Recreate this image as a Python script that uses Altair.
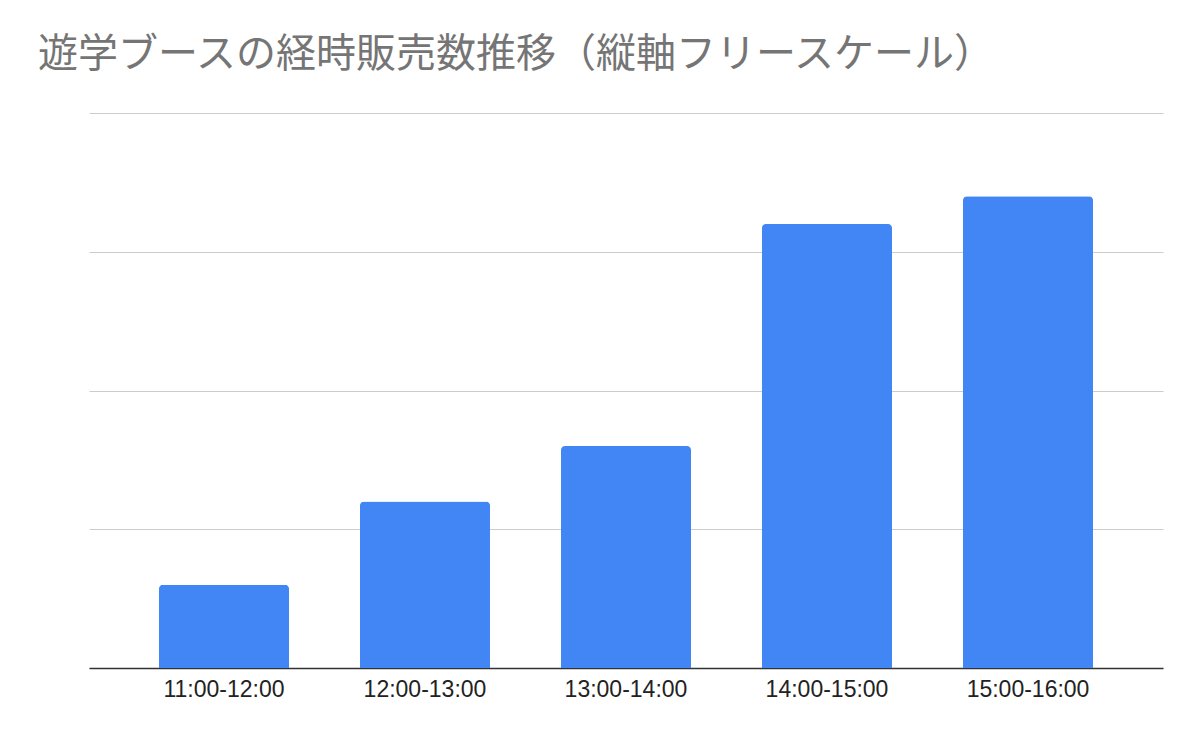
import altair as alt
import pandas as pd

slots = ["11:00-12:00", "12:00-13:00", "13:00-14:00", "14:00-15:00", "15:00-16:00"]
sales = [6, 12, 16, 32, 34]

df = pd.DataFrame({"slot": slots, "sales": sales})

chart = alt.Chart(df).mark_bar(
    color="#4285F4", cornerRadiusTopLeft=4, cornerRadiusTopRight=4
).encode(
    x=alt.X("slot:N", sort=slots, title=None,
            scale=alt.Scale(paddingInner=0.353, paddingOuter=0.348),
            axis=alt.Axis(labelAngle=0, labelFont="Liberation Sans", labelFontSize=23,
                          labelColor="#222222", labelPadding=10, ticks=False,
                          domainColor="#333333", domainWidth=1.5, grid=False)),
    y=alt.Y("sales:Q", title=None,
            scale=alt.Scale(domain=[0, 40], nice=False),
            axis=alt.Axis(values=[0, 10, 20, 30, 40], labels=False, ticks=False,
                          domain=False, gridColor="#cccccc", gridWidth=1.2)),
).properties(
    width=1074,
    height=555,
    padding={"left": 81, "top": 105, "right": 10, "bottom": 60},
    autosize=alt.AutoSizeParams(type="none"),
    title=alt.TitleParams(
        "遊学ブースの経時販売数推移（縦軸フリースケール）",
        anchor="start", frame="group", dx=-51, offset=18, baseline="middle",
        font="Noto Sans CJK JP", fontSize=40, fontWeight="normal", color="#757575",
    ),
).configure_view(stroke=None)

chart.save("out.html", embed_options={"renderer": "svg", "actions": False})
